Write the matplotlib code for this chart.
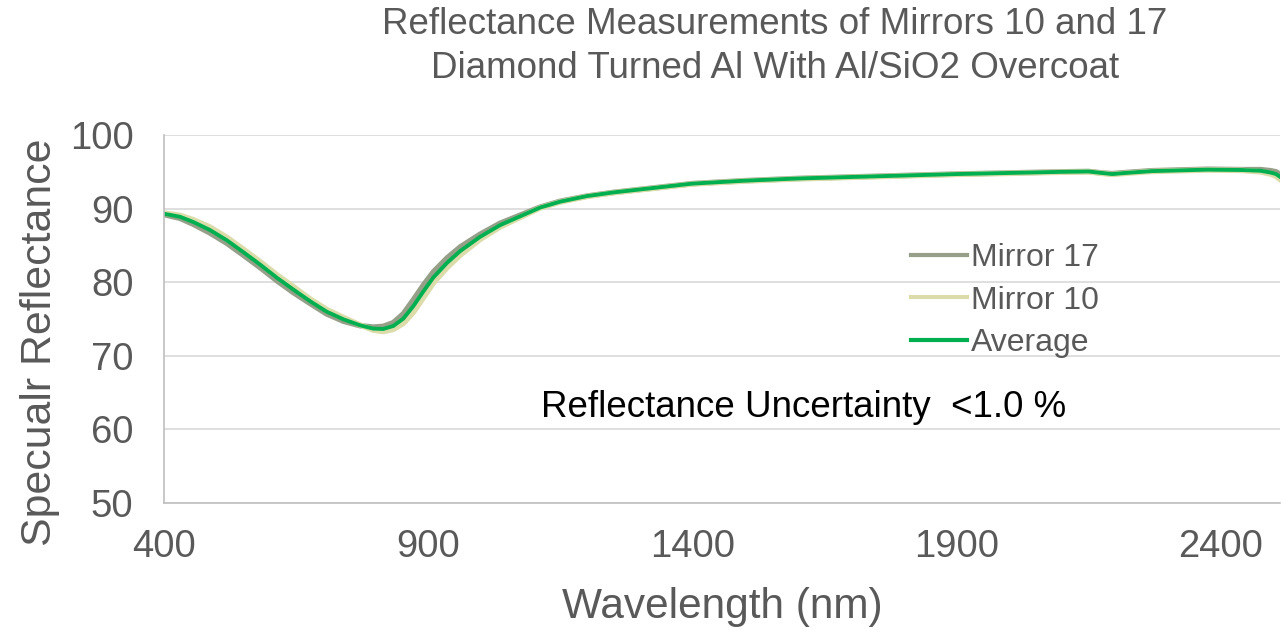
from matplotlib import pyplot as plt

plt.rcParams['font.family'] = ['Liberation Sans', 'DejaVu Sans']

# wavelength grid (nm) and reflectance (%)
wavelength = [400, 430, 455, 487, 519, 550, 582, 614, 645, 677, 708, 740, 771,
              796, 815, 834, 853, 872, 891, 910, 936, 961, 998, 1036, 1074,
              1112, 1150, 1200, 1250, 1300, 1350, 1400, 1450, 1500, 1600, 1700,
              1800, 1900, 2000, 2100, 2150, 2175, 2195, 2220, 2270, 2375, 2440,
              2476, 2495, 2505, 2512]

mirror_17 = [89.2, 88.7, 87.9, 86.7, 85.3, 83.7, 82.0, 80.2, 78.6, 77.1, 75.7,
             74.7, 74.1, 73.9, 74.0, 74.5, 75.7, 77.6, 79.6, 81.4, 83.3, 84.8,
             86.5, 88.0, 89.1, 90.2, 91.0, 91.7, 92.2, 92.6, 93.0, 93.4, 93.6,
             93.8, 94.1, 94.3, 94.5, 94.7, 94.85, 95.0, 95.05, 94.85, 94.75,
             94.9, 95.15, 95.35, 95.3, 95.3, 95.15, 95.0, 94.7]

mirror_10 = [89.4, 89.1, 88.5, 87.5, 86.1, 84.5, 82.8, 81.0, 79.4, 77.7, 76.3,
             75.2, 74.2, 73.5, 73.3, 73.6, 74.4, 75.9, 77.9, 79.9, 82.0, 83.7,
             85.8, 87.5, 88.8, 90.1, 90.9, 91.65, 92.15, 92.55, 92.95, 93.35,
             93.55, 93.75, 94.05, 94.25, 94.45, 94.65, 94.8, 94.95, 95.0, 94.8,
             94.65, 94.8, 95.05, 95.25, 95.2, 95.0, 94.7, 94.4, 94.0]

average = [89.3, 88.9, 88.2, 87.1, 85.7, 84.1, 82.4, 80.6, 79.0, 77.4, 76.0,
           74.95, 74.15, 73.7, 73.65, 74.05, 75.05, 76.75, 78.75, 80.65, 82.65,
           84.25, 86.15, 87.75, 88.95, 90.15, 90.95, 91.7, 92.2, 92.6, 93.0,
           93.4, 93.6, 93.8, 94.1, 94.3, 94.5, 94.7, 94.85, 95.0, 95.05, 94.85,
           94.7, 94.85, 95.1, 95.3, 95.25, 95.15, 94.9, 94.7, 94.35]

x_ticks = [400, 900, 1400, 1900, 2400]
y_ticks = [50, 60, 70, 80, 90, 100]

text_gray = '#595959'

fig = plt.figure(figsize=(12.81, 6.34), dpi=100)
ax = fig.add_axes([0.128, 0.2066, 0.871, 0.5804])

ax.plot(wavelength, mirror_17, color='#969F88', linewidth=4.0, label='Mirror 17')
ax.plot(wavelength, mirror_10, color='#DCDCAA', linewidth=4.0, label='Mirror 10')
ax.plot(wavelength, average, color='#00B050', linewidth=2.8, label='Average')

ax.set_xlim(400, 2512)
ax.set_ylim(50, 100)
ax.set_xticks(x_ticks)
ax.set_yticks(y_ticks)
ax.tick_params(length=0, labelsize=27.5, labelcolor=text_gray)
ax.tick_params(axis='x', pad=19)
ax.tick_params(axis='y', pad=22)
ax.grid(axis='y', color='#D9D9D9', linewidth=1.2)
ax.set_axisbelow(True)
for side in ['top', 'right']:
    ax.spines[side].set_visible(False)
for side in ['left', 'bottom']:
    ax.spines[side].set_color('#BFBFBF')
    ax.spines[side].set_linewidth(1.2)

# legend sits inside the plot, no frame
leg = ax.legend(loc='upper left', bbox_to_anchor=(0.658, 0.742), frameon=False,
                fontsize=23, handlelength=1.75, handletextpad=0.12,
                labelspacing=0.4, borderaxespad=0)
for txt in leg.get_texts():
    txt.set_color(text_gray)
for line in leg.get_lines():
    line.set_linewidth(3)

ax.text(1114, 63.0, 'Reflectance Uncertainty  <1.0 %', fontsize=26.5,
        color='black', ha='left', va='center')

fig.text(0.605, 1 - 25 / 634, 'Reflectance Measurements of Mirrors 10 and 17',
         fontsize=26.5, color=text_gray, ha='center', va='center')
fig.text(0.605, 1 - 68 / 634, 'Diamond Turned Al With Al/SiO2 Overcoat',
         fontsize=26.5, color=text_gray, ha='center', va='center')
fig.text(40 / 1281, 1 - 342 / 634, 'Specualr Reflectance', rotation=90,
         fontsize=30.8, color=text_gray, ha='center', va='center')
fig.text(722 / 1281, 1 - 607 / 634, 'Wavelength (nm)', fontsize=30.5,
         color=text_gray, ha='center', va='center')

fig.savefig('out.png', dpi=100)
